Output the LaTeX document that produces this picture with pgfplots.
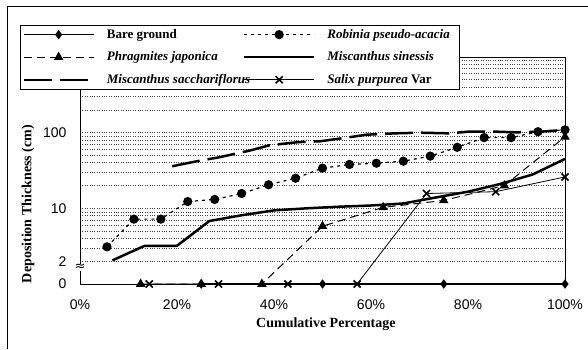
\documentclass[border=0pt]{standalone}
\usepackage{fontspec}
\setmainfont{Liberation Serif}
\setsansfont{Liberation Sans}
\newfontfamily\dejavu{DejaVu Sans}
\usepackage{pgfplots}
\pgfplotsset{compat=1.18}
\begin{document}
\begin{tikzpicture}
\useasboundingbox (0,0) rectangle (588pt,349pt);
\draw[line width=1pt] (7pt,0) -- (7pt,342pt) -- (588pt,342pt);
\begin{axis}[
  at={(80pt,65pt)}, anchor=south west,
  scale only axis, width=485pt, height=227pt,
  xmin=0, xmax=100, ymode=log, ymin=1, ymax=1000,
  xtick={0,20,40,60,80,100},
  xticklabels={\textsf{0\%},\textsf{20\%},\textsf{40\%},\textsf{60\%},\textsf{80\%},\textsf{100\%}},
  xticklabel style={font=\fontsize{14}{16}\selectfont, yshift=-12pt},
  ytick={1,2,10,100}, yticklabels={\textsf{0},\textsf{2},\textsf{10},\textsf{100}},
  yticklabel style={font=\fontsize{14}{16}\selectfont, xshift=-10pt},
  minor ytick={3,4,5,6,7,8,9,20,30,40,50,60,70,80,90,200,300,400,500,600,700,800,900},
  ymajorgrids, yminorgrids,
  major grid style={dotted, black!75, line width=0.6pt},
  minor grid style={dotted, black!75, line width=0.6pt},
  major tick length=0pt, minor tick length=0pt,
  axis line style={line width=1pt},
  clip=false,
  xlabel={Cumulative Percentage},
  xlabel style={at={(axis description cs:0.507,-0.175)}, anchor=center, font=\fontsize{14}{16}\selectfont\bfseries},
  ylabel={Deposition Thickness (cm)},
  ylabel style={at={(axis description cs:-0.107,0.352)}, anchor=center, font=\fontsize{14}{16}\selectfont\bfseries},
  legend columns=2,
  legend style={at={(-0.1237,1.141)}, anchor=north west, draw=black, line width=0.8pt, fill=white,
    inner sep=2pt, font=\fontsize{13}{15}\selectfont\bfseries, row sep=8pt,
    /tikz/every odd column/.append style={column sep=10pt},
    /tikz/every even column/.append style={column sep=2pt},
    cells={anchor=west}},
  legend image code/.code={\draw[mark repeat=2,mark phase=2] plot coordinates {(0pt,0pt) (35pt,0pt) (70pt,0pt)};},
]
% Bare ground
\addplot[black, line width=1.5pt, mark=diamond*, mark size=3.5pt, mark options={solid}]
  coordinates {(25,1) (50,1) (75,1) (100,1)};
\addlegendentry{\makebox[132pt][l]{Bare ground}}
% Robinia pseudo-acacia
\addplot[black, line width=1.2pt, dash pattern=on 3pt off 4pt, mark=*, mark size=4pt, mark options={solid}]
  coordinates {(5.56,3.1) (11.11,7.2) (16.67,7.2) (22.22,12.3) (27.78,13.1) (33.33,15.7)
   (38.89,20.5) (44.44,25) (50,34) (55.56,38) (61.11,39.5) (66.67,42) (72.22,49)
   (77.78,64) (83.33,86) (88.89,86) (94.44,103) (100,109)};
\addlegendentry{\makebox[128pt][l]{\itshape Robinia pseudo-acacia}}
% Phragmites japonica
\addplot[black, line width=1pt, dash pattern=on 8pt off 5pt, mark=triangle*, mark size=4.5pt, mark options={solid}]
  coordinates {(12.5,1) (25,1) (37.5,1) (50,5.8) (62.5,10.3) (75,12.7) (87.5,20) (100,88)};
\addlegendentry{\makebox[132pt][l]{\itshape Phragmites japonica}}
% Miscanthus sinensis
\addplot[black, line width=2.5pt]
  coordinates {(6.67,2.05) (13.33,3.2) (20,3.2) (26.67,6.8) (33.33,8.1) (40,9.4) (46.67,10)
   (53.33,10.5) (60,10.9) (66.67,11.6) (73.33,13.9) (80,16.6) (86.67,21) (93.33,28) (100,45)};
\addlegendentry{\makebox[128pt][l]{\itshape Miscanthus sinessis}}
% Miscanthus sacchariflorus
\addplot[black, line width=2.5pt, dash pattern=on 28pt off 8pt]
  coordinates {(19,36) (25,43) (28.5,47) (35,58) (39,68) (45,75) (49.5,77) (55,86) (59,94)
   (65,98) (70,100) (76,98) (80,103) (86,103) (90,101) (95,103) (100,109)};
\addlegendentry{\makebox[132pt][l]{\itshape Miscanthus sacchariflorus}}
% Salix purpurea Var
\addplot[black, line width=0.8pt, mark=x, mark size=5pt, mark options={line width=1.6pt}]
  coordinates {(14.29,1) (28.57,1) (42.86,1) (57.14,1) (71.43,15.7) (85.71,16.6) (100,26)};
\addlegendentry{\makebox[128pt][l]{\itshape Salix purpurea {\upshape Var}}}
\node[fill=white, inner sep=0.5pt, font=\dejavu\fontsize{13}{13}\selectfont] at (axis cs:0,1.65) {≈};
\end{axis}
\end{tikzpicture}
\end{document}
